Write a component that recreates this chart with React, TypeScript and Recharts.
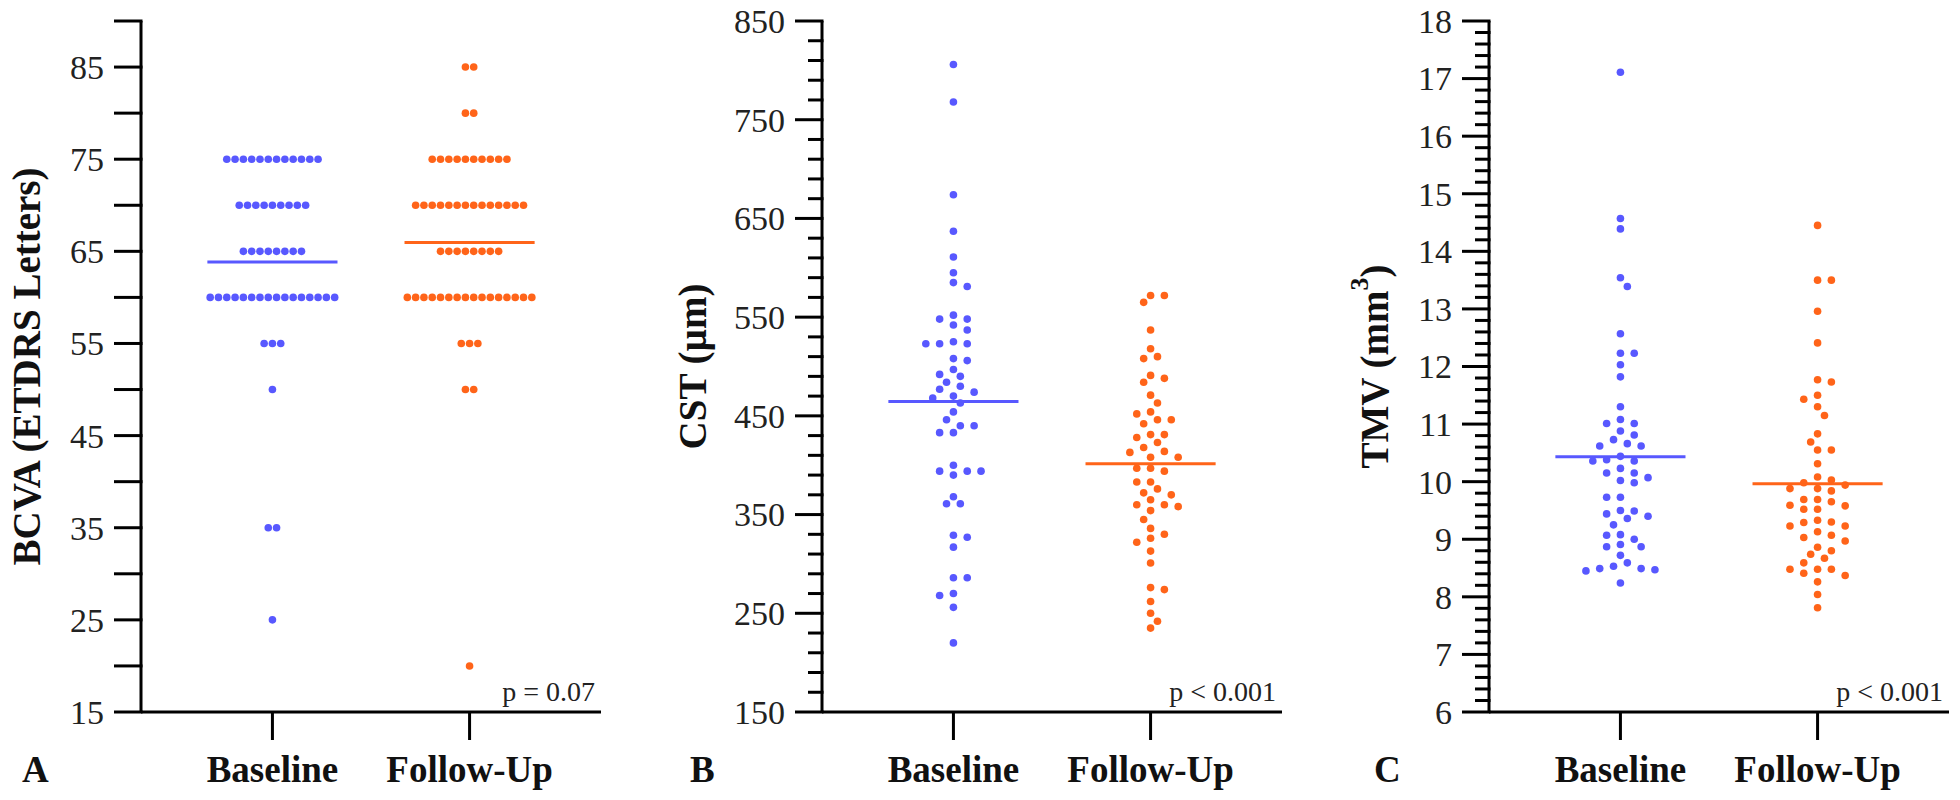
import React from 'react';
import { ScatterChart, Scatter, XAxis, YAxis, ReferenceLine, Customized } from 'recharts';

const BLUE = '#5858ff';
const ORANGE = '#ff6419';
const FONT = '"Liberation Serif", "Times New Roman", serif';

const groups = ['Baseline', 'Follow-Up'];

// ---- Panel A: BCVA (ETDRS letters) ----
const bcvaBaseline = [
  75, 75, 75, 75, 75, 75, 75, 75, 75, 75, 75, 75,
  70, 70, 70, 70, 70, 70, 70, 70, 70,
  65, 65, 65, 65, 65, 65, 65, 65,
  60, 60, 60, 60, 60, 60, 60, 60, 60, 60, 60, 60, 60, 60, 60, 60,
  55, 55, 55, 50, 35, 35, 25,
];
const bcvaFollowUp = [
  85, 85, 80, 80,
  75, 75, 75, 75, 75, 75, 75, 75, 75, 75,
  70, 70, 70, 70, 70, 70, 70, 70, 70, 70, 70, 70, 70, 70,
  65, 65, 65, 65, 65, 65, 65, 65,
  60, 60, 60, 60, 60, 60, 60, 60, 60, 60, 60, 60, 60, 60, 60, 60,
  55, 55, 55, 50, 50, 20,
];
const bcvaTickLabels = [15, 25, 35, 45, 55, 65, 75, 85];

// ---- Panel B: CST (µm) ----
const cstBaseline = [
  806, 768, 674, 637, 611, 595, 585, 581, 552, 548, 548, 542, 537, 525, 523, 523, 523,
  508, 506, 497, 492, 490, 484, 480, 477, 474, 470, 468, 463, 454, 446, 440, 440, 433,
  433, 400, 394, 394, 394, 390, 368, 361, 361, 329, 327, 317, 286, 286, 270, 268, 256, 220,
];
const cstFollowUp = [
  572, 572, 565, 537, 518, 510, 508, 491, 488, 484, 471, 463, 454, 452, 446, 446, 442,
  431, 431, 428, 423, 418, 414, 413, 408, 408, 397, 397, 394, 383, 383, 376, 372, 370,
  365, 360, 360, 358, 354, 345, 336, 330, 326, 322, 313, 301, 276, 274, 262, 250, 242, 235,
];
const cstTickLabels = [150, 250, 350, 450, 550, 650, 750, 850];

// ---- Panel C: TMV (mm3) ----
const tmvBaseline = [
  17.11, 14.57, 14.39, 13.54, 13.39, 12.57, 12.23, 12.23, 12.03, 11.82, 11.3, 11.08, 11.01,
  11.01, 10.88, 10.81, 10.73, 10.66, 10.62, 10.62, 10.44, 10.38, 10.36, 10.36, 10.23, 10.15,
  10.15, 10.07, 10.02, 9.98, 9.73, 9.73, 9.5, 9.49, 9.44, 9.4, 9.36, 9.25, 9.08, 9.07, 9.0,
  8.91, 8.87, 8.87, 8.72, 8.59, 8.53, 8.49, 8.49, 8.47, 8.45, 8.24,
];
const tmvFollowUp = [
  14.45, 13.5, 13.5, 12.96, 12.41, 11.77, 11.73, 11.5, 11.43, 11.3, 11.15, 10.83, 10.69,
  10.55, 10.55, 10.31, 10.08, 10.03, 9.98, 9.94, 9.88, 9.88, 9.84, 9.69, 9.69, 9.65, 9.59,
  9.58, 9.52, 9.52, 9.33, 9.3, 9.29, 9.23, 9.23, 9.13, 9.07, 9.03, 8.97, 8.86, 8.8, 8.74,
  8.67, 8.59, 8.48, 8.48, 8.48, 8.41, 8.37, 8.26, 8.04, 7.81,
];
const tmvTickLabels = [6, 7, 8, 9, 10, 11, 12, 13, 14, 15, 16, 17, 18];

// ---- layout constants ----
const CHART_W = 673;
const CHART_H = 800;
const MARGIN = { top: 21, right: 11, bottom: 28, left: 102 };
const Y_AXIS_W = 100;
const X_AXIS_H = 60;
const PLOT_H = CHART_H - MARGIN.top - MARGIN.bottom - X_AXIS_H; // 691
const AXIS_X = MARGIN.left + Y_AXIS_W; // 202
const PLOT_RIGHT = CHART_W - MARGIN.right; // 662
const PLOT_BOTTOM = MARGIN.top + PLOT_H; // 712
const MAJOR_LEN = 27;
const MINOR_LEN = 14;

type Pt = { x: number; y: number; dx: number };

// identical values are laid out as centred rows
function rowLayout(values: number[], group: number, spacing: number): Pt[] {
  const counts = new Map<number, number>();
  values.forEach((v) => counts.set(v, (counts.get(v) || 0) + 1));
  const seen = new Map<number, number>();
  return values.map((v) => {
    const n = counts.get(v) as number;
    const i = seen.get(v) || 0;
    seen.set(v, i + 1);
    return { x: group, y: v, dx: (i - (n - 1) / 2) * spacing };
  });
}

// greedy bee-swarm (offsets in pixels)
function swarmLayout(values: number[], group: number, pxPerUnit: number, step: number, minDist: number): Pt[] {
  const sorted = [...values].sort((a, b) => b - a);
  const placed: { v: number; py: number; dx: number }[] = [];
  for (const v of sorted) {
    const py = v * pxPerUnit;
    let chosen = 0;
    for (let k = 0; k < 30; k++) {
      const cands = k === 0 ? [0] : [k, -k];
      const valid = cands.filter((c) =>
        placed.every((p) => Math.hypot(p.dx - c * step, p.py - py) >= minDist)
      );
      if (valid.length) {
        if (valid.length === 2) {
          const near = (sgn: number) =>
            placed.filter((p) => Math.abs(p.py - py) < 3 * minDist && Math.sign(p.dx) === sgn).length;
          chosen = near(1) <= near(-1) ? valid[0] : valid[1];
        } else chosen = valid[0];
        break;
      }
    }
    placed.push({ v, py, dx: chosen * step });
  }
  return placed.map((p) => ({ x: group, y: p.v, dx: p.dx }));
}

const mean = (a: number[]) => a.reduce((s, v) => s + v, 0) / a.length;

function buildTicks(min: number, max: number, step: number) {
  const out: number[] = [];
  const n = Math.round((max - min) / step);
  for (let i = 0; i <= n; i++) out.push(Math.round((min + i * step) * 1000) / 1000);
  return out;
}

type PanelProps = {
  left: number;
  domain: [number, number];
  minorStep: number;
  labels: number[];
  base: Pt[];
  follow: Pt[];
  baseMean: number;
  followMean: number;
  title: React.ReactNode;
  titleOffset: number;
  letter: string;
  letterOffset: number;
  pText: string;
};

const makeDot = (color: string, r: number) => (props: any) => {
  const { cx, cy, payload } = props;
  if (cx == null || cy == null) return <g />;
  return <circle cx={cx + (payload?.dx || 0)} cy={cy} r={r} fill={color} />;
};

function Panel(p: PanelProps) {
  const ticks = buildTicks(p.domain[0], p.domain[1], p.minorStep);
  const isMajor = (v: number) => p.labels.some((l) => Math.abs(l - v) < 1e-6);

  const YTick = (props: any) => {
    const { x, y, payload } = props;
    const v = payload.value;
    const major = isMajor(v);
    const len = major || p.minorStep === 5 ? MAJOR_LEN : MINOR_LEN;
    return (
      <g>
        <line x1={x - len} x2={x + 1.5} y1={y} y2={y} stroke="#000" strokeWidth={3} />
        {major && (
          <text x={x - MAJOR_LEN - 10} y={y} dy="0.35em" textAnchor="end" fontSize={34} fontFamily={FONT} fill="#222">
            {v}
          </text>
        )}
      </g>
    );
  };

  const XTick = (props: any) => {
    const { x, y, payload } = props;
    return (
      <g>
        <line x1={x} x2={x} y1={y} y2={y + 28} stroke="#000" strokeWidth={3} />
        <text x={x} y={y + 70} textAnchor="middle" fontSize={37} fontWeight="bold" fontFamily={FONT} fill="#111">
          {groups[payload.value]}
        </text>
      </g>
    );
  };

  const cy = (MARGIN.top + PLOT_BOTTOM) / 2;
  const Texts = () => (
    <g>
      <text
        x={AXIS_X - p.titleOffset}
        y={cy}
        transform={`rotate(-90, ${AXIS_X - p.titleOffset}, ${cy})`}
        textAnchor="middle"
        dominantBaseline="central"
        fontSize={39}
        fontWeight="bold"
        fontFamily={FONT}
        fill="#111"
      >
        {p.title}
      </text>
      <text x={AXIS_X - p.letterOffset} y={782} fontSize={37} fontWeight="bold" fontFamily={FONT} fill="#111">
        {p.letter}
      </text>
      <text x={PLOT_RIGHT - 6} y={701} textAnchor="end" fontSize={28} fontFamily={FONT} fill="#222">
        {p.pText}
      </text>
    </g>
  );

  return (
    <div style={{ position: 'absolute', left: p.left, top: 0, width: CHART_W, height: CHART_H }}>
      <ScatterChart width={CHART_W} height={CHART_H} margin={MARGIN}>
        <XAxis
          type="number"
          dataKey="x"
          domain={[-2 / 3, 5 / 3]}
          ticks={[0, 1]}
          interval={0}
          tickSize={0}
          tickMargin={0}
          tickLine={false}
          axisLine={{ stroke: '#000', strokeWidth: 3 }}
          height={X_AXIS_H}
          tick={XTick}
          allowDataOverflow
        />
        <YAxis
          type="number"
          dataKey="y"
          domain={p.domain}
          ticks={ticks}
          interval={0}
          tickSize={0}
          tickMargin={0}
          tickLine={false}
          axisLine={{ stroke: '#000', strokeWidth: 3 }}
          width={Y_AXIS_W}
          tick={YTick}
          allowDataOverflow
        />
        <Scatter data={p.base} shape={makeDot(BLUE, 3.8)} fill={BLUE} isAnimationActive={false} />
        <Scatter data={p.follow} shape={makeDot(ORANGE, 3.8)} fill={ORANGE} isAnimationActive={false} />
        <ReferenceLine
          segment={[{ x: -0.33, y: p.baseMean }, { x: 0.33, y: p.baseMean }]}
          stroke={BLUE}
          strokeWidth={3}
          ifOverflow="visible"
        />
        <ReferenceLine
          segment={[{ x: 0.67, y: p.followMean }, { x: 1.33, y: p.followMean }]}
          stroke={ORANGE}
          strokeWidth={3}
          ifOverflow="visible"
        />
        <Customized component={Texts} />
      </ScatterChart>
    </div>
  );
}

export default function App() {
  const pxB = PLOT_H / (850 - 150);
  const pxC = PLOT_H / (18 - 6);
  return (
    <div style={{ position: 'absolute', left: 0, top: 0, width: 1960, height: 800, background: '#fff', overflow: 'hidden' }}>
      <Panel
        left={141 - AXIS_X}
        domain={[15, 90]}
        minorStep={5}
        labels={bcvaTickLabels}
        base={rowLayout(bcvaBaseline, 0, 8.3)}
        follow={rowLayout(bcvaFollowUp, 1, 8.3)}
        baseMean={mean(bcvaBaseline)}
        followMean={mean(bcvaFollowUp)}
        title="BCVA (ETDRS Letters)"
        titleOffset={115}
        letter="A"
        letterOffset={119}
        pText="p = 0.07"
      />
      <Panel
        left={822 - AXIS_X}
        domain={[150, 850]}
        minorStep={20}
        labels={cstTickLabels}
        base={swarmLayout(cstBaseline, 0, pxB, 6.9, 9.5)}
        follow={swarmLayout(cstFollowUp, 1, pxB, 6.9, 9.5)}
        baseMean={mean(cstBaseline)}
        followMean={mean(cstFollowUp)}
        title="CST (µm)"
        titleOffset={130}
        letter="B"
        letterOffset={132}
        pText="p < 0.001"
      />
      <Panel
        left={1489 - AXIS_X}
        domain={[6, 18]}
        minorStep={0.2}
        labels={tmvTickLabels}
        base={swarmLayout(tmvBaseline, 0, pxC, 6.9, 9.5)}
        follow={swarmLayout(tmvFollowUp, 1, pxC, 6.9, 9.5)}
        baseMean={mean(tmvBaseline)}
        followMean={mean(tmvFollowUp)}
        title={
          <>
            TMV (mm
            <tspan dy={-15} fontSize={26}>
              3
            </tspan>
            <tspan dy={15}>)</tspan>
          </>
        }
        titleOffset={115}
        letter="C"
        letterOffset={115}
        pText="p < 0.001"
      />
    </div>
  );
}
